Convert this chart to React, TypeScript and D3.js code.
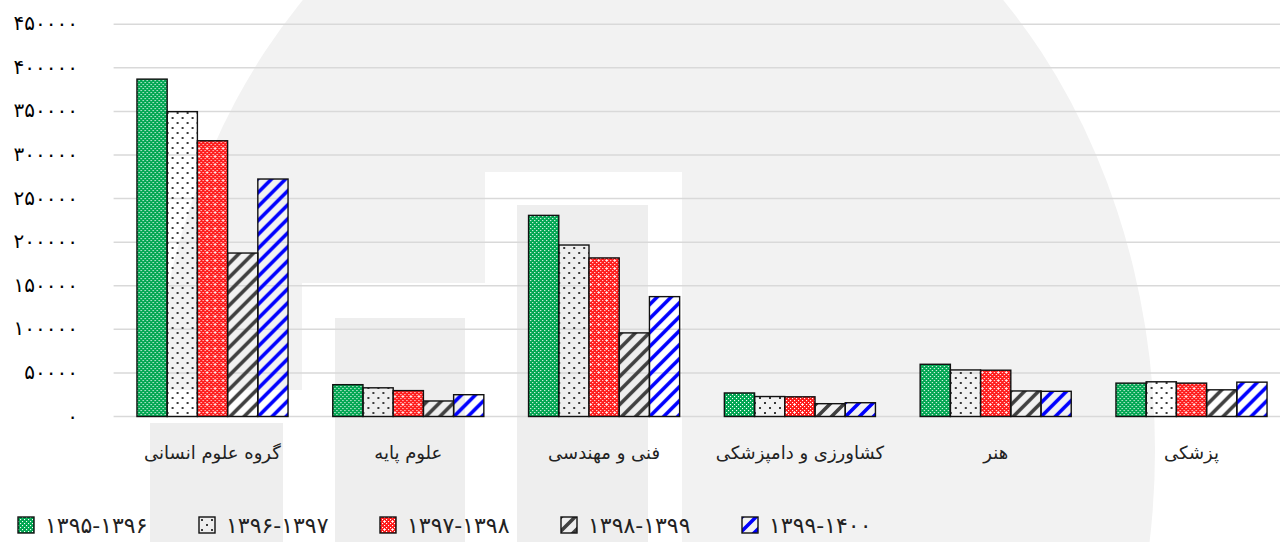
import React from 'react';
import * as d3 from 'd3';

const categories = ['گروه علوم انسانی', 'علوم پایه', 'فنی و مهندسی', 'کشاورزی و دامپزشکی', 'هنر', 'پزشکی'];
const seriesNames = ['۱۳۹۵-۱۳۹۶', '۱۳۹۶-۱۳۹۷', '۱۳۹۷-۱۳۹۸', '۱۳۹۸-۱۳۹۹', '۱۳۹۹-۱۴۰۰'];

const v9596 = [387000, 36500, 230700, 27000, 59900, 38300];
const v9697 = [349700, 32900, 196700, 22900, 53400, 39800];
const v9798 = [316300, 29700, 181900, 22600, 53100, 38300];
const v9899 = [187500, 17800, 95900, 14700, 29300, 30600];
const v9940 = [272400, 25000, 137500, 15800, 28900, 39400];

const yTicks = [0, 50000, 100000, 150000, 200000, 250000, 300000, 350000, 400000, 450000];

const allSeries = [v9596, v9697, v9798, v9899, v9940];

const width = 1280;
const height = 542;
const font = '"DejaVu Sans", sans-serif';

const faDigits = '۰۱۲۳۴۵۶۷۸۹';
const toFa = (n: number) => String(n).replace(/\d/g, c => faDigits[+c]);

export default function App() {
    const margin = { top: 24.2, left: 114.6, right: 1289.4, bottom: 416.5 };

    const x0 = d3.scaleBand<string>()
        .domain(categories)
        .range([margin.left, margin.right]);

    const x1 = d3.scaleBand<number>()
        .domain(d3.range(allSeries.length))
        .range([0, x0.bandwidth()])
        .paddingOuter(0.74);

    const y = d3.scaleLinear()
        .domain([0, 450000])
        .range([margin.bottom, margin.top]);

    const fills = ['url(#pGreen)', 'url(#pDots)', 'url(#pRed)', 'url(#pDark)', 'url(#pBlue)'];

    // small white dots for the checker fills
    const checker = (base: string, size: number) => {
        const dots: JSX.Element[] = [];
        for (let i = 0; i < size; i += 2) {
            for (let j = 0; j < size; j += 2) {
                if ((i + j) % 4 === 0) dots.push(<rect key={i + '-' + j} x={i} y={j} width={1.1} height={1.1} fill="#fff" />);
            }
        }
        return [<rect key="bg" width={size} height={size} fill={base} />, ...dots];
    };

    const stripes = (color: string) => (
        <path d="M-3.5,3.5 L3.5,-3.5 M0,14 L14,0 M10.5,17.5 L17.5,10.5" stroke={color} strokeWidth={3.6} />
    );

    return (
        <svg width={width} height={height} style={{ position: 'absolute', left: 0, top: 0 }}>
            <defs>
                <pattern id="pGreen" patternUnits="userSpaceOnUse" width={4} height={4}>
                    {checker('#00a651', 4)}
                </pattern>
                <pattern id="pRed" patternUnits="userSpaceOnUse" width={8} height={8}>
                    {checker('#ff1a1a', 8)}
                    <rect x={4} y={3} width={1} height={3} fill="#fff" opacity={0.8} />
                    <rect x={3} y={4} width={3} height={1} fill="#fff" opacity={0.8} />
                </pattern>
                <pattern id="pDots" patternUnits="userSpaceOnUse" width={10} height={10}>
                    <rect x={2} y={2} width={2} height={2} fill="#3a3a3a" />
                    <rect x={7} y={7} width={2} height={2} fill="#3a3a3a" />
                </pattern>
                <pattern id="pDark" patternUnits="userSpaceOnUse" width={14} height={14}>
                    {stripes('#404040')}
                </pattern>
                <pattern id="pBlue" patternUnits="userSpaceOnUse" width={14} height={14}>
                    {stripes('#0000ff')}
                </pattern>
            </defs>

            <rect width={width} height={height} fill="#fff" />

            {/* watermark logo */}
            <g>
                <ellipse cx={653} cy={450} rx={502} ry={628} fill="#f2f2f2" />
                <rect x={118} y={390} width={197} height={160} fill="#fff" />
                <rect x={302} y={283} width={196} height={270} fill="#fff" />
                <rect x={485} y={172} width={197} height={380} fill="#fff" />
                <rect x={150} y={423} width={133} height={130} fill="#eeeeee" />
                <rect x={335} y={318} width={130} height={240} fill="#eeeeee" />
                <rect x={517} y={205} width={131} height={350} fill="#eeeeee" />
            </g>

            <g>
                {yTicks.map(t => (
                    <g key={t}>
                        <line x1={margin.left - 1} x2={width} y1={y(t)} y2={y(t)} stroke="#d9d9d9" strokeWidth={1.5} />
                        <text x={78} y={y(t)} dy="0.3em" textAnchor="end" fontFamily={font} fontSize={20} letterSpacing={1} fill="#000">
                            {toFa(t)}
                        </text>
                    </g>
                ))}
            </g>

            <g>
                {categories.map((c, ci) => (
                    <g key={c} transform={`translate(${x0(c)},0)`}>
                        {allSeries.map((s, si) => (
                            <rect
                                key={si}
                                x={x1(si)}
                                y={y(s[ci])}
                                width={x1.bandwidth()}
                                height={y(0) - y(s[ci])}
                                fill={fills[si]}
                                stroke="#111"
                                strokeWidth={1.4}
                            />
                        ))}
                        <text x={x0.bandwidth() / 2} y={459} textAnchor="middle" fontFamily={font} fontSize={18} fill="#222">
                            {c}
                        </text>
                    </g>
                ))}
            </g>

            <g>
                {seriesNames.map((n, i) => (
                    <g key={n} transform={`translate(${18 + i * 181},517)`}>
                        <rect x={0} y={0} width={16} height={16} fill={fills[i]} stroke="#111" strokeWidth={1.4} />
                        <text x={27} y={16} fontFamily={font} fontSize={22} letterSpacing={0.4} fill="#222">{n}</text>
                    </g>
                ))}
            </g>
        </svg>
    );
}
